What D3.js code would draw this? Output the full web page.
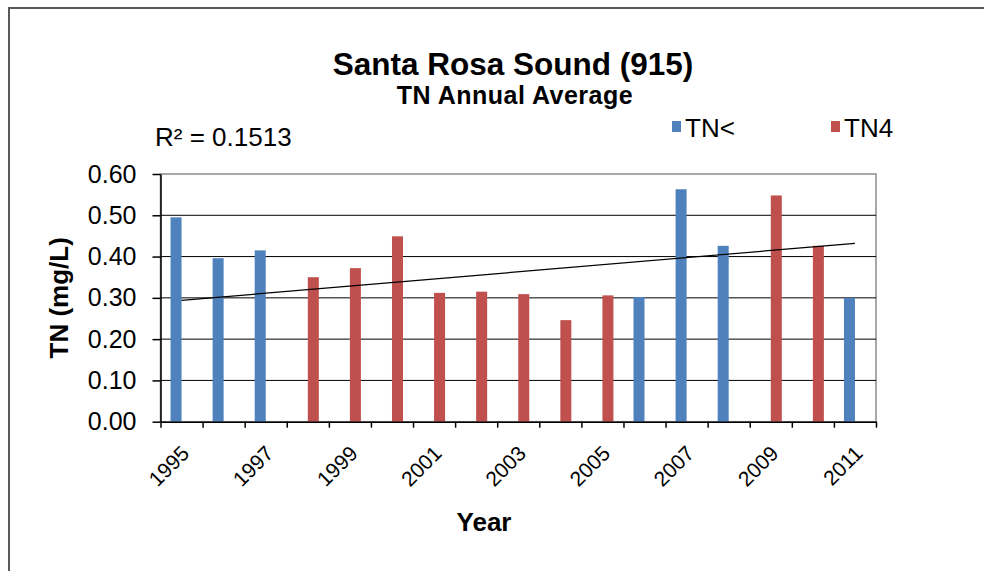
<!DOCTYPE html>
<html>
<head>
<meta charset="utf-8">
<script src="https://cdn.jsdelivr.net/npm/d3@7"></script>
<style>
  body { margin: 0; background: #fff; }
  svg { display: block; font-family: Arial, "Liberation Sans", sans-serif; }
</style>
</head>
<body>
<div id="chart"></div>
<script>
// --- data ---
const years = ["1995", "1996", "1997", "1998", "1999", "2000", "2001", "2002", "2003",
               "2004", "2005", "2006", "2007", "2008", "2009", "2010", "2011"];
const tnLessValues = [0.495, 0.396, 0.415, null, null, null, null, null, null,
                      null, null, 0.302, 0.563, 0.426, null, null, 0.300];
const tn4Values = [null, null, null, 0.350, 0.372, 0.449, 0.312, 0.315, 0.309,
                   0.246, 0.306, null, null, null, 0.548, 0.426, null];
const seriesNames = ["TN<", "TN4"];
const seriesColors = ["#4F81BD", "#C0504D"];
const yTicks = [0, 0.1, 0.2, 0.3, 0.4, 0.5, 0.6];
const xTickLabels = ["1995", "1997", "1999", "2001", "2003", "2005", "2007", "2009", "2011"];
// linear trendline (Excel) end points
const trendYears = ["1995", "2011"];
const trendValues = [0.294, 0.432];
const rSquaredLabel = "R\u00b2 = 0.1513";

const W = 984, H = 571;
const margin = {top: 174, right: 108, bottom: 149.3, left: 160.5};
const width = W - margin.left - margin.right;
const height = H - margin.top - margin.bottom;

const root = d3.select("#chart").append("svg")
    .attr("width", W)
    .attr("height", H);

root.append("rect").attr("width", W).attr("height", H).attr("fill", "#fff");

// outer chart frame
root.append("rect")
    .attr("x", 9).attr("y", 8)
    .attr("width", W + 20).attr("height", H + 20)
    .attr("fill", "none")
    .attr("stroke", "#595959")
    .attr("stroke-width", 2);

const svg = root.append("g")
    .attr("transform", `translate(${margin.left},${margin.top})`);

// --- scales ---
const x = d3.scaleBand()
    .domain(years)
    .range([0, width])
    .paddingInner(0.477)
    .paddingOuter(0.2385);

const x1 = d3.scaleBand()
    .domain(seriesNames)
    .range([0, x.bandwidth()]);

// category boundaries for the tick marks
const xEdge = d3.scaleLinear()
    .domain([0, years.length])
    .range([0, width]);

const y = d3.scaleLinear()
    .domain([0, 0.6])
    .range([height, 0]);

// plot area border (grey) + gridlines (black)
svg.append("rect")
    .attr("width", width).attr("height", height)
    .attr("fill", "none")
    .attr("stroke", "#8c8c8c")
    .attr("stroke-width", 1.5);

svg.append("g")
    .selectAll("line")
    .data(yTicks.filter(t => t > 0 && t < 0.6))
    .join("line")
    .attr("x1", 0).attr("x2", width)
    .attr("y1", d => y(d)).attr("y2", d => y(d))
    .attr("stroke", "#000")
    .attr("stroke-width", 1);

// --- bars ---
const seriesValues = [tnLessValues, tn4Values];
seriesNames.forEach((name, i) => {
    const pts = years.map((yr, j) => ({year: yr, value: seriesValues[i][j]}))
        .filter(d => d.value !== null);
    svg.append("g")
        .selectAll("rect")
        .data(pts)
        .join("rect")
        .attr("x", d => x(d.year) + x1(name))
        .attr("width", x1.bandwidth())
        .attr("y", d => y(d.value))
        .attr("height", d => height - y(d.value))
        .attr("fill", seriesColors[i]);
});

// --- trendline ---
const line = d3.line()
    .x(d => x(d[0]) + x.bandwidth() / 2)
    .y(d => y(d[1]));
svg.append("path")
    .datum(trendYears.map((yr, i) => [yr, trendValues[i]]))
    .attr("d", line)
    .attr("fill", "none")
    .attr("stroke", "#000")
    .attr("stroke-width", 1.2);

// --- axes ---
const yAxis = d3.axisLeft(y)
    .tickValues(yTicks)
    .tickFormat(d3.format(".2f"))
    .tickSizeInner(8)
    .tickSizeOuter(0)
    .tickPadding(16);

const gy = svg.append("g").call(yAxis);
gy.selectAll("text").style("font-size", "25px").attr("fill", "#000");
gy.selectAll("line, path").attr("stroke", "#000").attr("stroke-width", 1.5);

const xAxis = d3.axisBottom(xEdge)
    .tickValues(d3.range(years.length + 1))
    .tickFormat("")
    .tickSizeInner(6)
    .tickSizeOuter(0);

const gx = svg.append("g")
    .attr("transform", `translate(0,${height})`)
    .call(xAxis);
gx.selectAll("line, path").attr("stroke", "#000").attr("stroke-width", 1.5);

// rotated year labels, every other year
svg.append("g")
    .selectAll("text")
    .data(xTickLabels)
    .join("text")
    .attr("transform", d => `translate(${x(d) + x.bandwidth() / 2 + 9},${height + 33}) rotate(-45)`)
    .attr("text-anchor", "end")
    .style("font-size", "21px")
    .text(d => d);

// --- titles ---
root.append("text")
    .attr("x", 513).attr("y", 75)
    .attr("text-anchor", "middle")
    .style("font-size", "31.5px")
    .style("font-weight", "bold")
    .text("Santa Rosa Sound (915)");

root.append("text")
    .attr("x", 515).attr("y", 104)
    .attr("text-anchor", "middle")
    .style("font-size", "25px")
    .style("font-weight", "bold")
    .style("letter-spacing", "0.5px")
    .text("TN Annual Average");

root.append("text")
    .attr("x", 155).attr("y", 146)
    .style("font-size", "26px")
    .text(rSquaredLabel);

root.append("text")
    .attr("x", 484).attr("y", 531)
    .attr("text-anchor", "middle")
    .style("font-size", "26px")
    .style("font-weight", "bold")
    .text("Year");

root.append("text")
    .attr("transform", `translate(68,${margin.top + height / 2}) rotate(-90)`)
    .attr("text-anchor", "middle")
    .style("font-size", "26px")
    .style("font-weight", "bold")
    .text("TN (mg/L)");

// --- legend ---
const legendX = [672, 831];
const legend = root.append("g")
    .selectAll("g")
    .data(seriesNames)
    .join("g")
    .attr("transform", (d, i) => `translate(${legendX[i]},121)`);
legend.append("rect")
    .attr("width", 9).attr("height", 11)
    .attr("fill", (d, i) => seriesColors[i]);
legend.append("text")
    .attr("x", 13).attr("y", 16)
    .style("font-size", "26px")
    .text(d => d);
</script>
</body>
</html>
